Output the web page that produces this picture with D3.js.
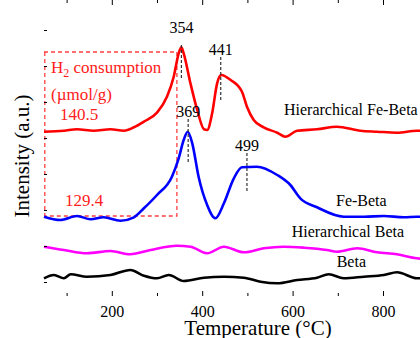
<!DOCTYPE html>
<html>
<head>
<meta charset="utf-8">
<script src="https://cdn.jsdelivr.net/npm/d3@7"></script>
<style>
  body { margin: 0; background: #fff; }
  svg { font-family: "Liberation Serif", "Times New Roman", serif; }
</style>
</head>
<body>
<div id="chart"></div>
<script>
// temperature (°C) / intensity (a.u.) pairs
var hierFeBeta = [[50,164.3],[94,165.3],[123,166.7],[160,165.3],[197,166.7],[227,165.3],[249,168.7],[271,174.3],[300,183.3],[322,199.3],[337,219.3],[348,242.7],[354,248.7],[359,242.7],[374,212.7],[389,186],[404,166.7],[411,166],[422,182.7],[433,212.7],[442,221],[463,216],[488,204.3],[499,189.3],[514,176],[536,168.7],[566,163.3],[584,159.3],[610,165.3],[654,166.7],[698,169.3],[750,165.3],[787,164.3],[831,163.3],[875,165.3],[900,164.5]];
var feBeta = [[50,79.3],[86,76],[123,80],[153,76.7],[182,78.7],[219,75.3],[249,78.7],[271,87.7],[300,101],[333,119.3],[348,137.7],[359,156],[368,164.3],[378,152.7],[392,119.3],[411,91],[429,77.7],[448,92.7],[470,117.7],[488,128.7],[521,129.3],[566,121],[595,111],[617,97.7],[654,88.7],[713,79.3],[758,79.3],[802,80],[846,78.7],[875,79.3],[900,79]];
var hierBeta = [[50,49.3],[94,46],[145,42.7],[197,45],[241,41.7],[286,46],[344,50.3],[374,49.3],[411,42.7],[448,49.3],[492,43.7],[536,47.7],[580,49.3],[625,48.3],[676,46],[698,44.3],[743,47.7],[787,43.7],[831,41.7],[875,37.7],[900,37]];
var beta = [[50,17.7],[72,21],[94,17.7],[109,21.7],[145,19.3],[197,21],[241,26],[271,20.3],[300,17.7],[326,21],[359,15],[404,18.3],[448,19.3],[492,18.3],[529,14.3],[566,12.7],[610,16],[654,18.3],[680,21.7],[713,17.7],[758,19.3],[802,21],[831,23.7],[875,17.7],[900,18]];

var seriesNames = ["Hierarchical Fe-Beta", "Fe-Beta", "Hierarchical Beta", "Beta"];
var seriesColors = ["#ff0000", "#0000ff", "#ff00ff", "#000000"];

// peak annotations: temperature, label baseline and dashed line ends (intensity)
var peakT = [354, 441, 369, 499];
var peakLabelY = [263.3, 241, 179.3, 145.3];
var peakLineTop = [251, 239, 177, 143];
var peakLineBottom = [218, 194, 133, 104];

// H2 consumption box
var boxT = [50, 344];
var boxI = [80, 244];
var h2Values = ["140.5", "129.4"];

var xMajorTicks = [200, 400, 600, 800];
var xMinorTicks = [100, 300, 500, 700, 900];
var yTicks = [14, 50, 86, 122, 158, 194, 230, 266];

var W = 420, H = 338;
var margin = {left: 44, top: 12, bottom: 42};

var svg = d3.select("#chart").append("svg")
  .attr("width", W)
  .attr("height", H);

var x = d3.scaleLinear().domain([50, 900]).range([margin.left, margin.left + 850 * 0.452]);
var y = d3.scaleLinear().domain([0, 284]).range([H - margin.bottom, margin.top]);

// red dashed box (behind curves)
svg.append("path")
  .attr("d", "M" + x(boxT[0]) + "," + y(boxI[1]) + "H" + x(boxT[1]) + "V" + y(boxI[0]) + "H" + x(boxT[0]))
  .attr("fill", "none")
  .attr("stroke", "#ff4040")
  .attr("stroke-width", 1.3)
  .attr("stroke-dasharray", "4,3");
svg.append("line")
  .attr("x1", x(boxT[0]) + 0.8).attr("x2", x(boxT[0]) + 0.8)
  .attr("y1", y(boxI[1])).attr("y2", y(boxI[0]))
  .attr("stroke", "#ff4040").attr("stroke-width", 1.3).attr("stroke-dasharray", "4,3");

var line = d3.line()
  .x(function(d) { return x(d[0]); })
  .y(function(d) { return y(d[1]); })
  .curve(d3.curveMonotoneX);

[hierFeBeta, feBeta, hierBeta, beta].forEach(function(s, i) {
  svg.append("path")
    .datum(s)
    .attr("d", line)
    .attr("fill", "none")
    .attr("stroke", seriesColors[i])
    .attr("stroke-width", 2.6)
    .attr("stroke-linejoin", "round");
});

// dashed peak markers
peakT.forEach(function(t, i) {
  svg.append("line")
    .attr("x1", x(t)).attr("x2", x(t))
    .attr("y1", y(peakLineTop[i])).attr("y2", y(peakLineBottom[i]))
    .attr("stroke", "#333").attr("stroke-width", 1.2)
    .attr("stroke-dasharray", "3,2");
  svg.append("text")
    .attr("x", x(t)).attr("y", y(peakLabelY[i]))
    .attr("text-anchor", "middle")
    .attr("font-size", 16)
    .text(t);
});

// axes, ticks pointing inward
var bottom = y(0), top = y(284);
svg.append("g").attr("transform", "translate(0," + bottom + ")")
  .call(d3.axisBottom(x).tickValues(xMajorTicks).tickSize(-5).tickPadding(10).tickFormat(d3.format("d")))
  .call(function(g) {
    g.select(".domain").remove();
    g.selectAll("text").attr("font-size", 16).attr("font-family", "Liberation Serif").attr("fill", "#000");
  });
svg.append("g").attr("transform", "translate(0," + bottom + ")")
  .call(d3.axisBottom(x).tickValues(xMinorTicks).tickSize(-3).tickFormat(""))
  .call(function(g) { g.select(".domain").remove(); });
svg.append("g").attr("transform", "translate(0," + top + ")")
  .call(d3.axisTop(x).tickValues(xMajorTicks).tickSize(-5).tickFormat(""))
  .call(function(g) { g.select(".domain").remove(); });
svg.append("g").attr("transform", "translate(0," + top + ")")
  .call(d3.axisTop(x).tickValues(xMinorTicks).tickSize(-3).tickFormat(""))
  .call(function(g) { g.select(".domain").remove(); });
svg.append("g").attr("transform", "translate(" + margin.left + ",0)")
  .call(d3.axisLeft(y).tickValues(yTicks).tickSize(-3).tickFormat(""))
  .call(function(g) { g.select(".domain").remove(); });

svg.append("rect")
  .attr("x", margin.left).attr("y", top)
  .attr("width", x(900) - margin.left).attr("height", bottom - top)
  .attr("fill", "none").attr("stroke", "#000").attr("stroke-width", 1.5);

// series labels
var labelPos = [[284, 115], [336, 205.7], [291.7, 236.7], [336.7, 266.7]];
seriesNames.forEach(function(n, i) {
  svg.append("text")
    .attr("x", labelPos[i][0]).attr("y", labelPos[i][1])
    .attr("font-size", 16)
    .text(n);
});

// H2 consumption text
var h2 = svg.append("text").attr("x", 51).attr("y", 73).attr("font-size", 17).attr("fill", "#ff2020");
h2.append("tspan").text("H");
h2.append("tspan").attr("font-size", 12).attr("dy", 4).text("2");
h2.append("tspan").attr("dy", -4).text(" consumption");
svg.append("text").attr("x", 51).attr("y", 100).attr("font-size", 17).attr("fill", "#ff2020").text("(\u00b5mol/g)");
svg.append("text").attr("x", 60).attr("y", 120).attr("font-size", 17).attr("fill", "#ff2020").text(h2Values[0]);
svg.append("text").attr("x", 65).attr("y", 206).attr("font-size", 17).attr("fill", "#ff2020").text(h2Values[1]);

// axis titles
svg.append("text")
  .attr("x", 258).attr("y", 335)
  .attr("text-anchor", "middle")
  .attr("font-size", 21)
  .text("Temperature (\u00b0C)");
svg.append("text")
  .attr("transform", "translate(29,156) rotate(-90)")
  .attr("text-anchor", "middle")
  .attr("font-size", 21)
  .text("Intensity (a.u.)");
</script>
</body>
</html>
